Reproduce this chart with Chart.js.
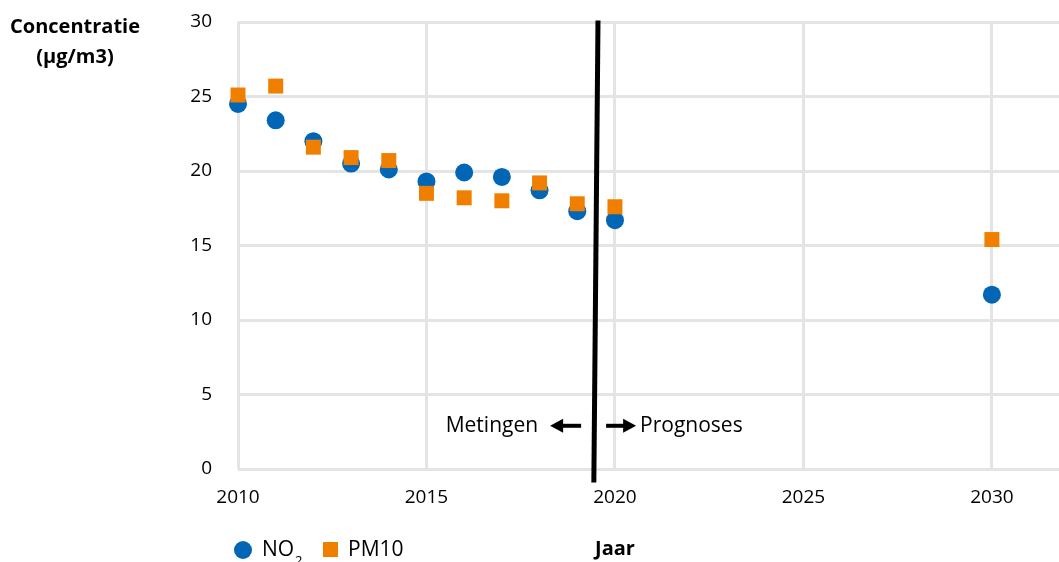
<!DOCTYPE html>
<html>
<head>
<meta charset="utf-8">
<script src="https://cdn.jsdelivr.net/npm/chart.js@4.4.1/dist/chart.umd.min.js"></script>
<style>
  html, body { margin: 0; padding: 0; background: #fff; overflow: hidden; }
  #chart { display: block; width: 1059px; height: 562px; }
</style>
</head>
<body>
<canvas id="chart" width="1059" height="562"></canvas>
<script>
  // jaren en concentraties (µg/m3)
  const years = [2010, 2011, 2012, 2013, 2014, 2015, 2016, 2017, 2018, 2019, 2020, 2030];
  const no2Values = [24.5, 23.4, 22.0, 20.5, 20.1, 19.3, 19.9, 19.6, 18.7, 17.3, 16.7, 11.7];
  const pm10Values = [25.1, 25.7, 21.6, 20.9, 20.7, 18.5, 18.2, 18.0, 19.2, 17.8, 17.6, 15.4];
  const xTicks = [2010, 2015, 2020, 2025, 2030];
  const yTicks = [0, 5, 10, 15, 20, 25, 30];
  const splitYear = 2019.5;

  const BLUE = '#0066b5';
  const ORANGE = '#f07f00';
  const FONT = '"Open Sans", "Noto Sans", sans-serif';

  const toPoints = vals => years.map((y, i) => ({ x: y, y: vals[i] }));

  const overlay = {
    id: 'overlay',
    afterDraw(chart) {
      const { ctx, scales: { x, y } } = chart;
      ctx.save();

      // scheiding metingen / prognoses
      ctx.strokeStyle = '#000';
      ctx.lineWidth = 5;
      ctx.beginPath();
      ctx.moveTo(x.getPixelForValue(splitYear + 0.05), y.getPixelForValue(30.1));
      ctx.lineTo(x.getPixelForValue(splitYear - 0.06), y.getPixelForValue(-0.9));
      ctx.stroke();

      const lx = x.getPixelForValue(splitYear);
      const ay = y.getPixelForValue(2.9);
      ctx.fillStyle = '#000';
      ctx.font = '21px ' + FONT;
      ctx.textBaseline = 'middle';
      ctx.textAlign = 'right';
      ctx.fillText('Metingen', lx - 58, ay);
      ctx.textAlign = 'left';
      ctx.fillText('Prognoses', lx + 44, ay);

      function arrow(x1, x2) {
        const dir = Math.sign(x2 - x1);
        ctx.fillRect(Math.min(x1, x2 - dir * 12), ay - 2, Math.abs(x2 - x1) - 11, 4);
        ctx.beginPath();
        ctx.moveTo(x2, ay);
        ctx.lineTo(x2 - dir * 13, ay - 7);
        ctx.lineTo(x2 - dir * 13, ay + 7);
        ctx.closePath();
        ctx.fill();
      }
      arrow(lx - 16, lx - 46);
      arrow(lx + 10, lx + 40);

      // as-titels
      ctx.font = 'bold 20px ' + FONT;
      ctx.textAlign = 'center';
      ctx.fillText('Concentratie', 75, 27);
      ctx.fillText('(µg/m3)', 75, 57);
      ctx.fillText('Jaar', x.getPixelForValue(2020), 549);

      // legenda
      ctx.fillStyle = BLUE;
      ctx.beginPath();
      ctx.arc(243, 550, 9, 0, Math.PI * 2);
      ctx.fill();
      ctx.fillStyle = ORANGE;
      ctx.fillRect(323, 542, 15, 15);
      ctx.fillStyle = '#000';
      ctx.textAlign = 'left';
      ctx.font = '21px ' + FONT;
      ctx.fillText('NO', 262, 550);
      ctx.font = '13px ' + FONT;
      ctx.fillText('2', 295, 561);
      ctx.font = '21px ' + FONT;
      ctx.fillText('PM10', 348, 550);

      ctx.restore();
    }
  };

  new Chart(document.getElementById('chart'), {
    type: 'scatter',
    data: {
      datasets: [
        {
          label: 'NO2',
          data: toPoints(no2Values),
          pointStyle: 'circle',
          pointRadius: 9,
          pointHoverRadius: 9,
          backgroundColor: BLUE,
          borderWidth: 0,
          clip: false,
          order: 1
        },
        {
          label: 'PM10',
          data: toPoints(pm10Values),
          pointStyle: 'rect',
          pointRadius: 10.6,
          pointHoverRadius: 10.6,
          backgroundColor: ORANGE,
          borderWidth: 0,
          clip: false,
          order: 0
        }
      ]
    },
    options: {
      responsive: false,
      devicePixelRatio: 1,
      animation: false,
      layout: { autoPadding: false, padding: { top: 22, right: 0, bottom: -2, left: 0 } },
      plugins: {
        legend: { display: false },
        tooltip: { enabled: false }
      },
      scales: {
        x: {
          type: 'linear',
          min: 2010,
          max: 2031.78,
          afterBuildTicks: axis => { axis.ticks = xTicks.map(v => ({ value: v })); },
          afterFit: axis => { axis.height = 95; axis.paddingLeft = 0; axis.paddingRight = 0; },
          grid: { color: '#e4e4e4', lineWidth: 3, drawTicks: false },
          border: { display: false },
          ticks: {
            padding: 17,
            color: '#000',
            font: { family: FONT, size: 19 },
            maxRotation: 0,
            callback: v => String(v)
          }
        },
        y: {
          min: 0,
          max: 30,
          afterBuildTicks: axis => { axis.ticks = yTicks.map(v => ({ value: v })); },
          afterFit: axis => { axis.width = 238; axis.paddingTop = 0; axis.paddingBottom = 0; },
          grid: { color: '#e4e4e4', lineWidth: 3, drawTicks: false },
          border: { display: false },
          ticks: {
            padding: 26,
            color: '#000',
            font: { family: FONT, size: 19 }
          }
        }
      }
    },
    plugins: [overlay]
  });
</script>
</body>
</html>
